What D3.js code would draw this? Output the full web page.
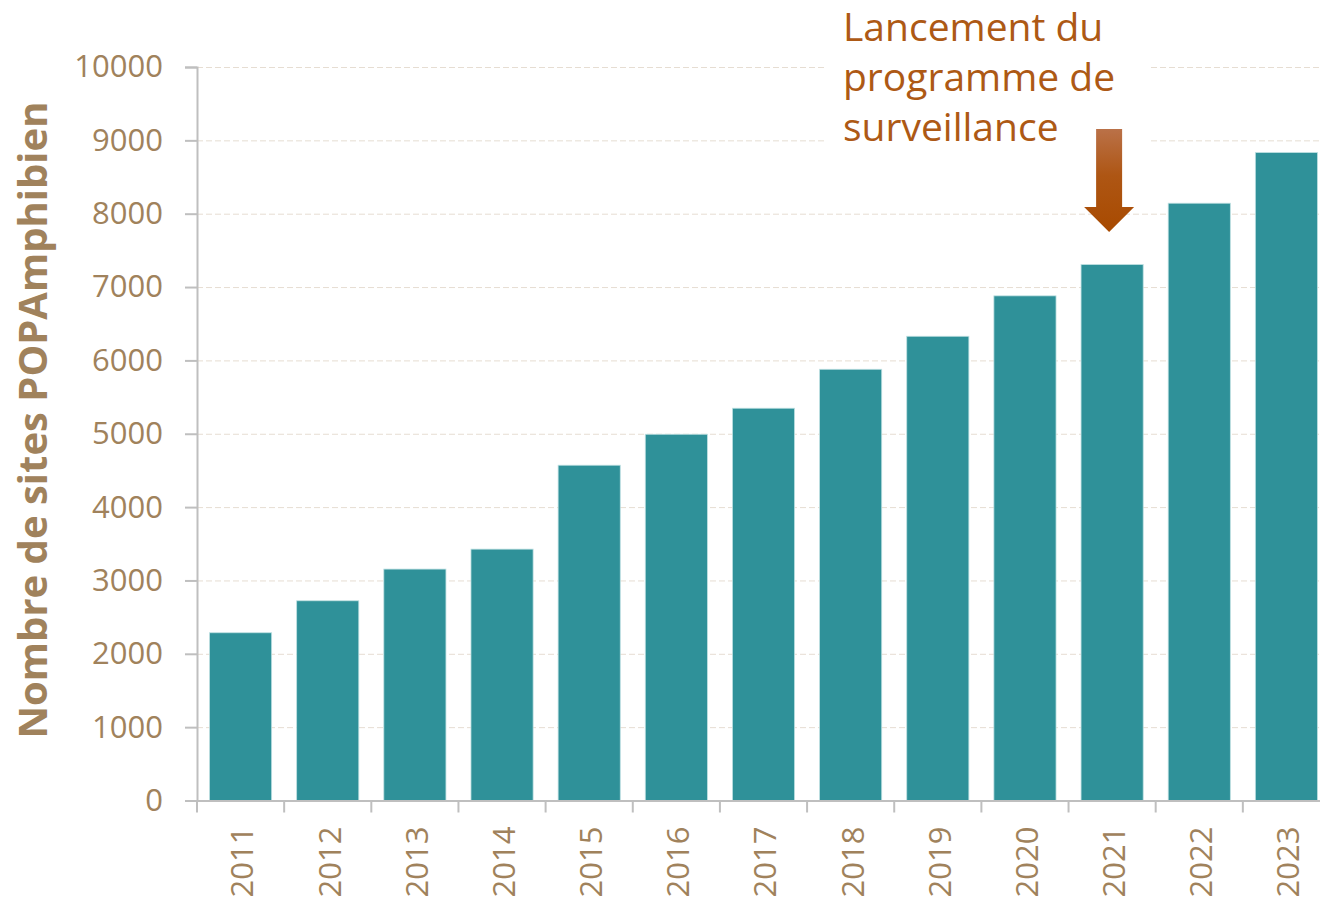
<!DOCTYPE html>
<html>
<head>
<meta charset="utf-8">
<script src="https://d3js.org/d3.v7.min.js"></script>
<style>
    html, body { margin: 0; padding: 0; background: #ffffff; }
    svg { display: block; font-family: "Open Sans", "Noto Sans", sans-serif; }
    .gridlines .domain { display: none; }
    .gridlines line { stroke: #e6ddd2; stroke-dasharray: 6,3; }
    .axis text { fill: #a0825c; font-family: "Open Sans", "Noto Sans", sans-serif; }
    .axis .domain, .axis line { stroke: #bfbfbf; stroke-width: 2; }
</style>
</head>
<body>
<svg id="chart" width="1320" height="899"></svg>
<script>
// Number of POPAmphibien sites per year
const years = ["2011", "2012", "2013", "2014", "2015", "2016", "2017",
               "2018", "2019", "2020", "2021", "2022", "2023"];
const sites = [2287, 2723, 3155, 3427, 4571, 4993, 5348,
               5879, 6329, 6880, 7307, 8143, 8834];
const yTicks = [0, 1000, 2000, 3000, 4000, 5000, 6000, 7000, 8000, 9000, 10000];
const noteLines = ["Lancement du", "programme de", "surveillance"];
const noteYear = "2021";

const svg = d3.select("svg#chart");
const margin = { top: 67, right: -10, bottom: 98.5, left: 197 };
const width = +svg.attr("width");
const height = +svg.attr("height");

const xScale = d3.scaleBand().domain(years)
                 .range([margin.left, width - margin.right])
                 .paddingInner(0.287).paddingOuter(0.1435);
const yScale = d3.scaleLinear().domain([0, 10000])
                 .range([height - margin.bottom, margin.top]);

// gridlines
let gridlines = d3.axisLeft(yScale).tickValues(yTicks)
                  .tickSize(-(width - margin.left)).tickFormat("");
svg.append("g").attr("class", "gridlines")
   .attr("transform", `translate(${margin.left},0)`)
   .call(gridlines);

// white box behind the note (hides the gridlines there)
svg.append("rect")
   .attr("x", 826).attr("y", 0)
   .attr("width", 324).attr("height", 150)
   .attr("fill", "#ffffff");

// bars
svg.selectAll("rect.bar").data(years)
   .join("rect")
   .attr("class", "bar")
   .attr("x", d => xScale(d))
   .attr("width", xScale.bandwidth())
   .attr("y", (d, i) => yScale(sites[i]))
   .attr("height", (d, i) => yScale(0) - yScale(sites[i]))
   .attr("fill", "#2f9199")
   .attr("stroke", "#bfe0e2")
   .attr("stroke-width", 0.8);

// y axis
let leftAxis = d3.axisLeft(yScale).tickValues(yTicks)
                 .tickFormat(d3.format("d")).tickSize(12).tickPadding(22);
svg.append("g").attr("class", "axis y")
   .attr("transform", `translate(${margin.left},0)`)
   .call(leftAxis)
   .call(g => g.selectAll("text").style("font-size", "31px"));

// x axis, ticks at band edges
let bottomAxis = d3.axisBottom(xScale).tickSize(0).tickPadding(0);
let xAxis = svg.append("g").attr("class", "axis x")
   .attr("transform", `translate(0,${yScale(0)})`)
   .call(bottomAxis);
xAxis.selectAll(".tick text")
     .attr("text-anchor", "end")
     .attr("dy", "0.35em")
     .attr("transform", "translate(2,26) rotate(-90)")
     .attr("y", 0).attr("x", 0)
     .style("font-size", "31px");
xAxis.selectAll("line.edge").data(years)
     .join("line")
     .attr("class", "edge")
     .attr("x1", d => xScale(d) - xScale.step() * xScale.paddingInner() / 2)
     .attr("x2", d => xScale(d) - xScale.step() * xScale.paddingInner() / 2)
     .attr("y1", 0).attr("y2", 12);

// y axis title
svg.append("text")
   .attr("transform", "rotate(-90)")
   .attr("x", -420)
   .attr("y", 47)
   .attr("text-anchor", "middle")
   .style("font-size", "40px")
   .style("font-weight", "bold")
   .style("fill", "#a0825c")
   .text("Nombre de sites POPAmphibien");

// annotation text
svg.append("text")
   .attr("x", 843).attr("y", 41)
   .style("font-size", "39px")
   .style("fill", "#ad5915")
   .selectAll("tspan").data(noteLines)
   .join("tspan")
   .attr("x", 843)
   .attr("dy", (d, i) => i == 0 ? 0 : 50)
   .text(d => d);

// arrow with gradient
const grad = svg.append("defs").append("linearGradient")
   .attr("id", "arrowGrad").attr("x1", 0).attr("y1", 0).attr("x2", 0).attr("y2", 1);
grad.append("stop").attr("offset", "0%").attr("stop-color", "#ba7148");
grad.append("stop").attr("offset", "45%").attr("stop-color", "#ae5614");
grad.append("stop").attr("offset", "100%").attr("stop-color", "#a84a00");

const ax = xScale(noteYear) + xScale.bandwidth() / 2 - 3;
const arrowTop = 129, arrowTip = 232, headY = 207;
svg.append("path")
   .attr("d", `M${ax - 13},${arrowTop} L${ax + 13},${arrowTop} L${ax + 13},${headY}
               L${ax + 25},${headY} L${ax},${arrowTip} L${ax - 25},${headY}
               L${ax - 13},${headY} Z`)
   .attr("fill", "url(#arrowGrad)");
</script>
</body>
</html>
